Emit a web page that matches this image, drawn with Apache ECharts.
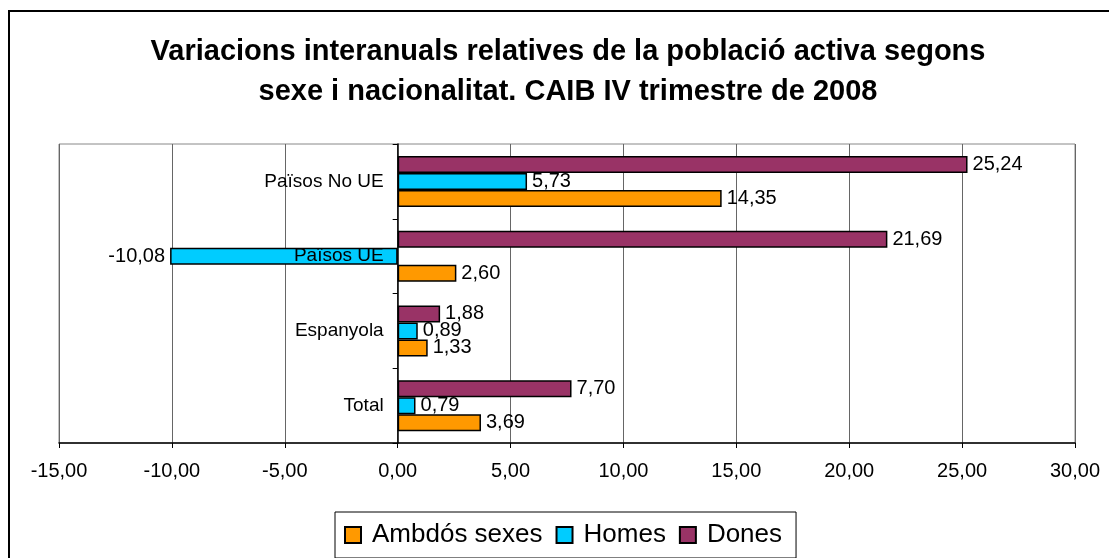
<!DOCTYPE html>
<html>
<head>
<meta charset="utf-8">
<script src="https://cdn.jsdelivr.net/npm/echarts@6/dist/echarts.min.js"></script>
<style>
  html, body { margin: 0; padding: 0; background: #fff; }
  #chart { width: 1109px; height: 558px; }
</style>
</head>
<body>
<div id="chart"></div>
<script>
const titleText = 'Variacions interanuals relatives de la població activa segons\nsexe i nacionalitat. CAIB IV trimestre de 2008';
const categories = ['Total', 'Espanyola', 'Països UE', 'Països No UE'];
const seriesNames = ['Ambdós sexes', 'Homes', 'Dones'];
const ambdosSexes = [3.69, 1.33, 2.60, 14.35];
const homes = [0.79, 0.89, -10.08, 5.73];
const dones = [7.70, 1.88, 21.69, 25.24];
const seriesColors = ['#FF9900', '#00CCFF', '#993366'];
const xMin = -15, xMax = 30, xStep = 5;

const fmt = v => Number(v).toFixed(2).replace('.', ',');
const FONT = 'Liberation Sans, Arial, sans-serif';

const gridLeft = 59, gridRight = 34, chartWidth = 1109;
// place the category axis on the zero of the value axis
const zeroOffset = -((0 - xMin) / (xMax - xMin)) * (chartWidth - gridLeft - gridRight);

function makeSeries(name, values, color) {
  return {
    name: name,
    type: 'bar',
    barWidth: 17,
    barGap: '0%',
    itemStyle: { color: color, borderColor: '#000', borderWidth: 1.5 },
    label: {
      show: true,
      position: 'right',
      distance: 5,
      color: '#000',
      fontFamily: FONT,
      fontSize: 20,
      formatter: p => fmt(p.value)
    },
    data: values.map(v => v < 0 ? { value: v, label: { position: 'left' } } : v)
  };
}

const chart = echarts.init(document.getElementById('chart'), null, { renderer: 'canvas' });
chart.setOption({
  animation: false,
  backgroundColor: '#fff',
  title: {
    text: titleText,
    left: 568,
    top: 32,
    padding: 0,
    textAlign: 'center',
    textStyle: { fontFamily: FONT, fontSize: 29, fontWeight: 'bold', color: '#000', lineHeight: 40 }
  },
  graphic: [{
    type: 'rect',
    shape: { x: 9, y: 11, width: 1200, height: 700 },
    style: { fill: 'none', stroke: '#000', lineWidth: 2 },
    silent: true,
    z: 100
  }],
  legend: {
    data: seriesNames,
    left: 335,
    top: 512,
    orient: 'horizontal',
    padding: [10, 14, 10, 9],
    itemGap: 13,
    itemWidth: 16,
    itemHeight: 16,
    borderColor: '#000',
    borderWidth: 1,
    icon: 'rect',
    textStyle: { fontFamily: FONT, fontSize: 26, color: '#000', padding: [0, 0, 0, 6] }
  },
  grid: {
    left: gridLeft, right: gridRight, top: 144, bottom: 115,
    show: true, borderColor: '#888', borderWidth: 1,
    containLabel: false, outerBoundsMode: 'none'
  },
  xAxis: {
    type: 'value',
    min: xMin, max: xMax, interval: xStep,
    axisLine: { show: true, lineStyle: { color: '#000', width: 1.5 } },
    axisTick: { show: true, length: 5, lineStyle: { color: '#000' } },
    splitLine: { show: true, lineStyle: { color: '#666', width: 1 } },
    axisLabel: { fontFamily: FONT, fontSize: 20, color: '#000', margin: 18, formatter: v => fmt(v) }
  },
  yAxis: {
    type: 'category',
    data: categories,
    z: 10,
    offset: zeroOffset,
    axisLine: { show: true, onZero: false, lineStyle: { color: '#000', width: 1.5 } },
    axisTick: { show: true, length: 5, alignWithLabel: false, lineStyle: { color: '#000' } },
    splitLine: { show: false },
    axisLabel: { fontFamily: FONT, fontSize: 19, color: '#000', margin: 14 }
  },
  series: [
    makeSeries(seriesNames[2], dones, seriesColors[2]),
    makeSeries(seriesNames[1], homes, seriesColors[1]),
    makeSeries(seriesNames[0], ambdosSexes, seriesColors[0])
  ]
});
</script>
</body>
</html>
